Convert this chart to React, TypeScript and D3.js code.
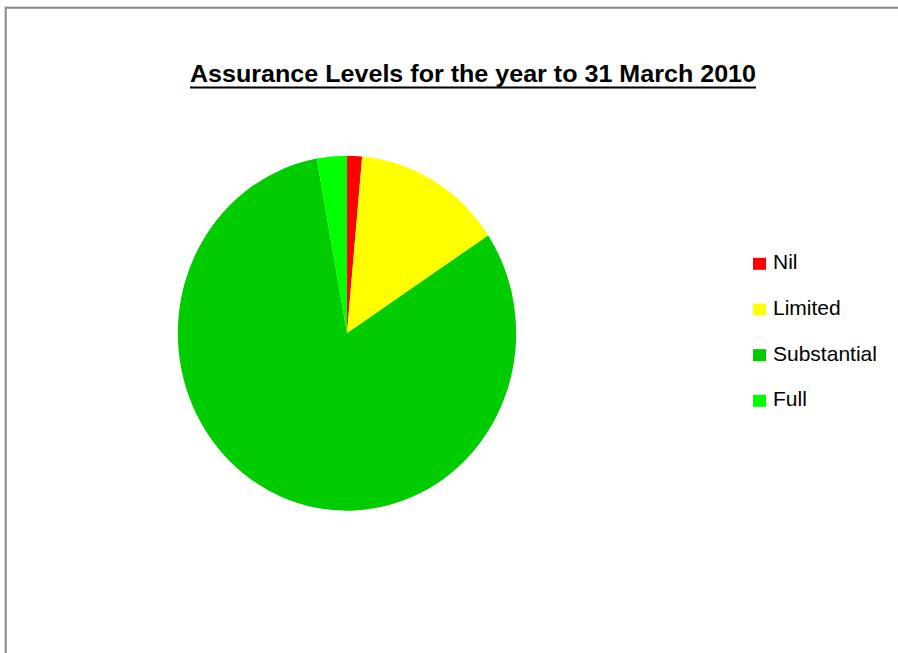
import React from "react";
import * as d3 from "d3";

const categories = ["Nil", "Limited", "Substantial", "Full"];
const values = [1, 10, 57, 2];
const colors = ["#FF0000", "#FFFF00", "#00CC00", "#00FF00"];
const title = "Assurance Levels for the year to 31 March 2010";

const W = 898;
const H = 653;

export default function App() {
  const cx = 347;
  const cy = 333.2;
  const rx = 169.2;
  const ry = 177.5;

  const pie = d3
    .pie<number>()
    .sort(null)
    .value((d) => d)
    .startAngle(0)
    .endAngle(2 * Math.PI);
  const arcs = pie(values);
  const arc = d3.arc<d3.PieArcDatum<number>>().innerRadius(0).outerRadius(ry);

  const legendY = d3
    .scalePoint<string>()
    .domain(categories)
    .range([269.3, 406.3]);

  return (
    <svg
      width={W}
      height={H}
      style={{ position: "absolute", left: 0, top: 0, display: "block" }}
      xmlns="http://www.w3.org/2000/svg"
    >
      <rect x={0} y={0} width={W} height={H} fill="#fff" />
      <rect
        x={5.7}
        y={7.7}
        width={W + 20}
        height={H + 20}
        fill="none"
        stroke="#868686"
        strokeWidth={2}
      />
      <text
        x={190}
        y={82.3}
        fontFamily="'Liberation Sans', Arial, sans-serif"
        fontWeight="bold"
        fontSize={24}
        textLength={566}
        lengthAdjust="spacingAndGlyphs"
        fill="#000"
      >
        {title}
      </text>
      <line x1={190} x2={756} y1={87.5} y2={87.5} stroke="#000" strokeWidth={2} />
      <g transform={`translate(${cx},${cy}) scale(${rx / ry},1)`}>
        {arcs.map((a, i) => (
          <path key={categories[i]} d={arc(a) || ""} fill={colors[i]} />
        ))}
      </g>
      <g>
        {categories.map((c, i) => {
          const y = legendY(c) as number;
          return (
            <g key={c}>
              <rect x={753} y={y - 11.5} width={13} height={12} fill={colors[i]} />
              <text
                x={773}
                y={y}
                fontFamily="'Liberation Sans', Arial, sans-serif"
                fontSize={21}
                fill="#000"
              >
                {c}
              </text>
            </g>
          );
        })}
      </g>
    </svg>
  );
}
